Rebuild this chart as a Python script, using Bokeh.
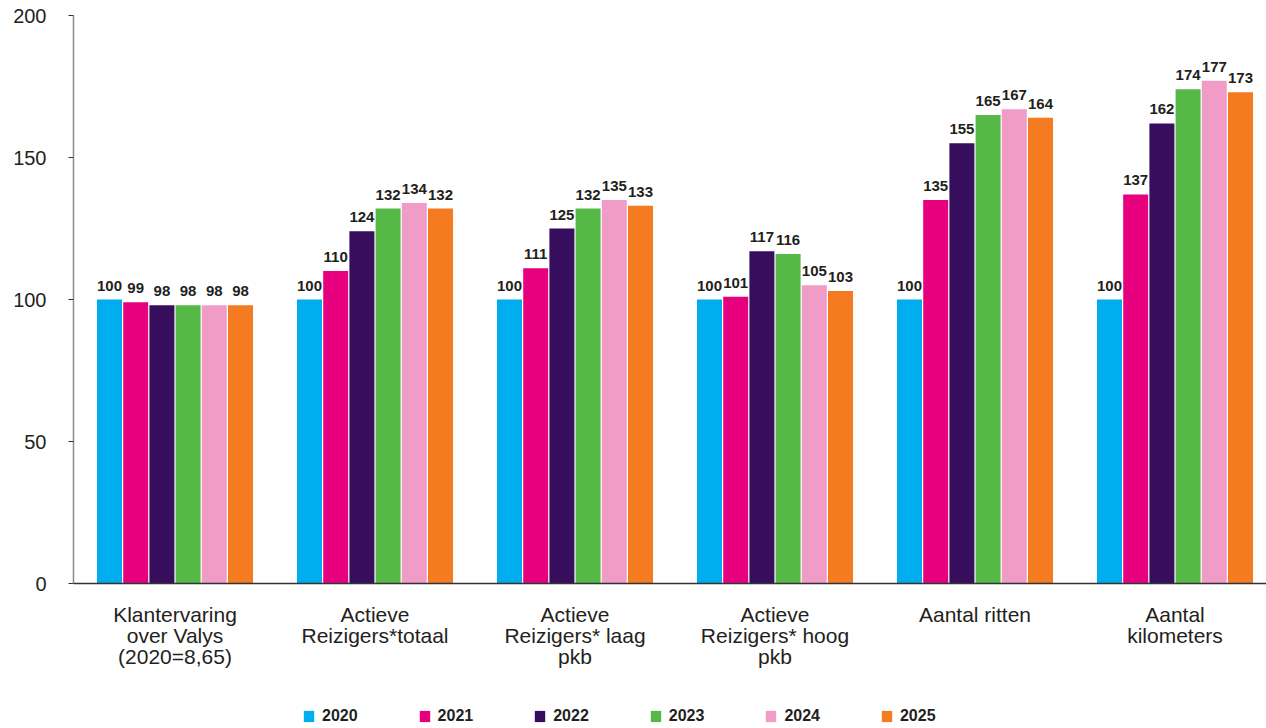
from bokeh.plotting import figure
from bokeh.models import ColumnDataSource, Range1d, FixedTicker, Legend, LegendItem, Span
from bokeh.embed import file_html
from bokeh.resources import INLINE
from bokeh.core.properties import value

categories = [
    "Klantervaring\nover Valys\n(2020=8,65)",
    "Actieve\nReizigers*totaal",
    "Actieve\nReizigers* laag\npkb",
    "Actieve\nReizigers* hoog\npkb",
    "Aantal ritten",
    "Aantal\nkilometers",
]
years = ["2020", "2021", "2022", "2023", "2024", "2025"]
v2020 = [100, 100, 100, 100, 100, 100]
v2021 = [99, 110, 111, 101, 135, 137]
v2022 = [98, 124, 125, 117, 155, 162]
v2023 = [98, 132, 132, 116, 165, 174]
v2024 = [98, 134, 135, 105, 167, 177]
v2025 = [98, 132, 133, 103, 164, 173]
series = [v2020, v2021, v2022, v2023, v2024, v2025]
colors = ["#00aeef", "#e6007e", "#370e5e", "#56b947", "#f19cc6", "#f47b20"]
y_ticks = [0, 50, 100, 150, 200]

TXT = "#231f20"
FONT = "Liberation Sans"

# frame spans from y=15 px to the bottom of the canvas; 2.84 px per unit
px_per_unit = 568 / 200.0
y_min = -145 / px_per_unit

p = figure(width=1266, height=728, output_backend="svg", toolbar_location=None,
           x_range=Range1d(-0.01, 5.955), y_range=Range1d(y_min, 200),
           x_axis_location=None,
           min_border_left=73, min_border_right=0, min_border_top=15, min_border_bottom=0)
p.outline_line_color = None
p.xgrid.visible = False
p.ygrid.visible = False
p.background_fill_color = "white"
p.border_fill_color = "white"

group_centers = [i + 0.4975 for i in range(len(categories))]
step = 0.131
width = 0.125

items = []
for k, (yr, vals, col) in enumerate(zip(years, series, colors)):
    xs = [c + (k - 2.5) * step for c in group_centers]
    src = ColumnDataSource(dict(x=xs, top=vals, lab=[str(v) for v in vals]))
    r = p.vbar(x="x", top="top", width=width, bottom=0, source=src,
               fill_color=col, line_color=None)
    p.text(x="x", y="top", text="lab", source=src, text_align="center",
           text_baseline="alphabetic", y_offset=-14, text_font=value(FONT),
           text_font_size="15px", text_font_style="bold", text_color=TXT)
    items.append(LegendItem(label=yr, renderers=[r]))

# baseline (x axis line)
p.add_layout(Span(location=0, dimension="width", line_color="#333333", line_width=1.5))

# category labels below the baseline
cat_src = ColumnDataSource(dict(x=group_centers, y=[0] * len(categories), t=categories))
p.text(x="x", y="y", text="t", source=cat_src, text_align="center", text_baseline="top",
       y_offset=19, text_font=value(FONT), text_font_size="21px", text_color=TXT,
       text_line_height=0.92)

# y axis
ya = p.yaxis[0]
ya.bounds = (0, 200)
ya.ticker = FixedTicker(ticks=y_ticks)
ya.axis_line_color = "#8a8a8a"
ya.axis_line_width = 1.5
ya.major_tick_line_color = "#333333"
ya.major_tick_in = 0
ya.major_tick_out = 5
ya.minor_tick_line_color = None
ya.major_label_text_font = FONT
ya.major_label_text_font_size = "20px"
ya.major_label_text_color = TXT
ya.major_label_standoff = 22

legend = Legend(items=items, orientation="horizontal", location=(229, 3),
                glyph_width=13, glyph_height=14, label_standoff=7, spacing=60,
                padding=0, margin=0, border_line_color=None,
                background_fill_alpha=0,
                label_text_font=FONT, label_text_font_style="bold",
                label_text_font_size="16px", label_text_color=TXT, label_height=14)
p.add_layout(legend, "center")

open("out.html", "w").write(file_html(p, INLINE))
